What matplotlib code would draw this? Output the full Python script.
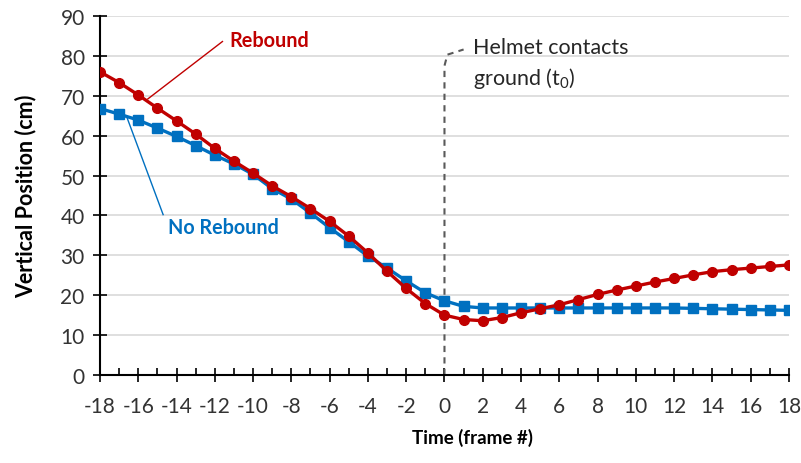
import numpy as np
import matplotlib.pyplot as plt
from matplotlib.ticker import MultipleLocator

plt.rcParams['font.family'] = ['Lato', 'DejaVu Sans']
plt.rcParams['mathtext.fontset'] = 'custom'
plt.rcParams['mathtext.rm'] = 'Lato'
plt.rcParams['mathtext.it'] = 'Lato'
plt.rcParams['axes.unicode_minus'] = False

# frame numbers, t0 = helmet contacts ground
frames = np.arange(-18, 19)
t0 = 0

rebound = [76.0, 73.3, 70.2, 66.9, 63.7, 60.4, 56.8, 53.6, 50.6, 47.4, 44.7, 41.7,
           38.5, 34.8, 30.6, 26.0, 21.7, 17.9, 15.0, 13.9, 13.6, 14.4, 15.6, 16.6,
           17.6, 18.9, 20.2, 21.3, 22.3, 23.3, 24.2, 25.1, 25.9, 26.4, 26.8, 27.2, 27.6]
no_rebound = [66.8, 65.4, 63.9, 61.9, 59.8, 57.5, 55.1, 52.9, 50.3, 46.7, 44.1, 40.6,
              36.9, 33.4, 29.8, 26.8, 23.6, 20.6, 18.6, 17.2, 16.8, 16.8, 16.8, 16.8,
              16.8, 16.8, 16.8, 16.8, 16.8, 16.8, 16.8, 16.7, 16.6, 16.5, 16.4, 16.3, 16.2]

red = '#C00000'
blue = '#0070C0'

fig = plt.figure(figsize=(8.01, 4.64), dpi=100)
ax = fig.add_axes([0.1248, 0.1897, 0.8602, 0.7737])

ax.grid(axis='y', color='#D9D9D9', lw=1.2)
ax.set_axisbelow(True)

ax.plot(frames, no_rebound, color=blue, lw=2.4, marker='s', ms=6.5, zorder=3)
ax.plot(frames, rebound, color=red, lw=2.4, marker='o', ms=7, zorder=4)

# t0 marker line
ax.plot([t0, t0, t0 + 0.15, t0 + 1.0], [0, 77.5, 80.3, 81.6], color='#595959',
        lw=1.5, ls=(0, (3, 2.5)), zorder=2)
ax.text(t0 + 1.5, 82.2, 'Helmet contacts', fontsize=15.5, color='#262626', va='center')
ax.text(t0 + 1.5, 74.7, 'ground (t$_0$)', fontsize=15.5, color='#262626', va='center')

# series labels with leader lines
ax.plot([-15.5, -11.6], [69.2, 83.6], color=red, lw=1, zorder=2)
ax.text(-11.25, 84.0, 'Rebound', color=red, fontsize=14.3, fontweight='bold',
        va='center', ha='left')
ax.plot([-16.6, -14.7], [64.7, 40.2], color=blue, lw=1, zorder=2)
ax.text(-14.45, 37.1, 'No Rebound', color=blue, fontsize=14.2, fontweight='bold',
        va='center', ha='left')

ax.set_xlim(-18, 18)
ax.set_ylim(0, 90)
ax.xaxis.set_major_locator(MultipleLocator(2))
ax.xaxis.set_minor_locator(MultipleLocator(1))
ax.yaxis.set_major_locator(MultipleLocator(10))

for s in ['top', 'right']:
    ax.spines[s].set_visible(False)
for s in ['left', 'bottom']:
    ax.spines[s].set_linewidth(1.5)
    ax.spines[s].set_color('black')

ax.tick_params(axis='x', which='major', direction='inout', length=10, width=1.2,
               labelsize=15, labelcolor='#333333', pad=10)
ax.tick_params(axis='x', which='minor', direction='in', length=5, width=1.2)
ax.tick_params(axis='y', which='major', direction='inout', length=10, width=1.2,
               labelsize=15, labelcolor='#333333', pad=6)

ax.set_xlabel('Time (frame #)', fontsize=13.5, fontweight='bold')
ax.set_ylabel('Vertical Position (cm)', fontsize=15.5, fontweight='bold')
ax.xaxis.set_label_coords(0.54, -0.148)
ax.yaxis.set_label_coords(-0.092, 0.5)

fig.savefig('out.png', dpi=100)
